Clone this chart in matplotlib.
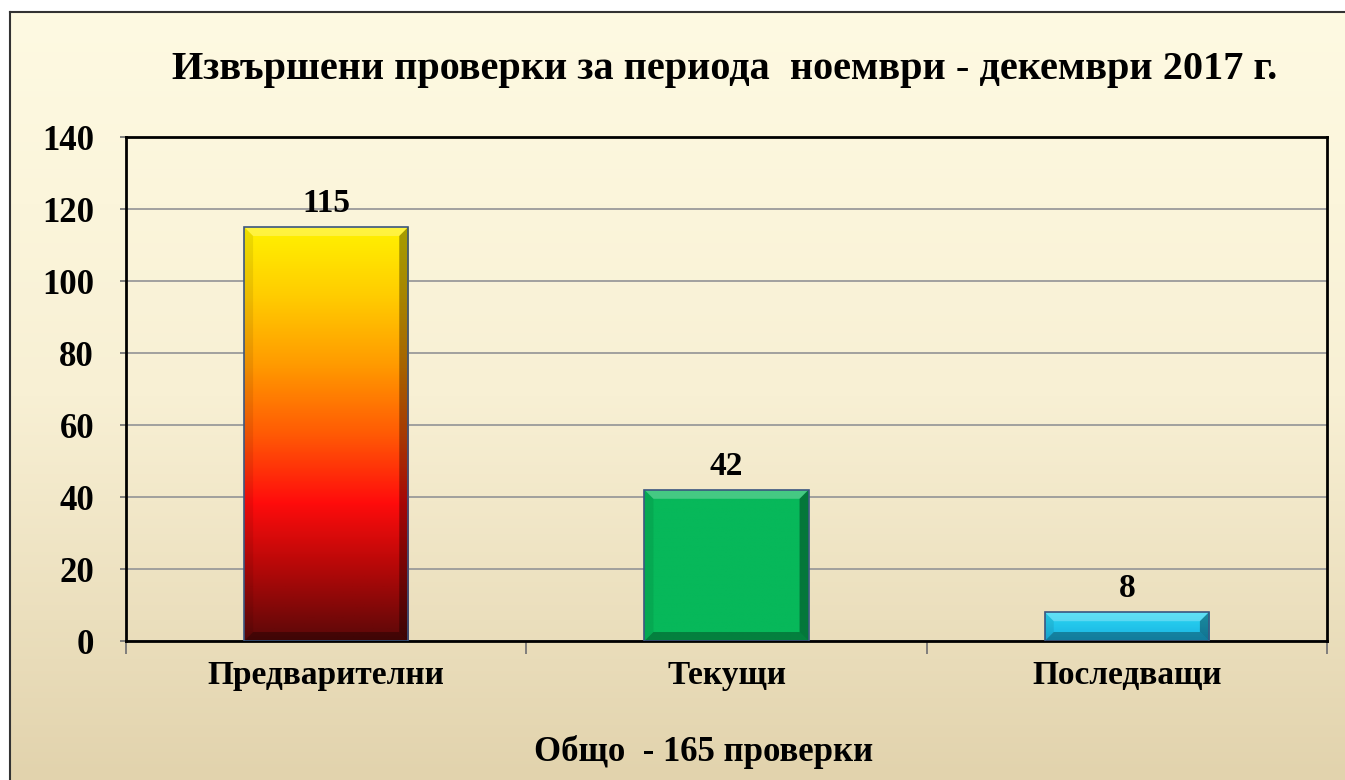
import numpy as np
import matplotlib.pyplot as plt
from matplotlib.colors import LinearSegmentedColormap
from matplotlib.patches import Polygon

# data
categories = ["Предварителни", "Текущи", "Последващи"]
values = [115, 42, 8]
title = "Извършени проверки за периода  ноември - декември 2017 г."
footer = "Общо  - 165 проверки"

plt.rcParams["font.family"] = ["Liberation Serif", "DejaVu Serif"]
plt.rcParams["font.weight"] = "bold"

W, H = 1345, 780
fig = plt.figure(figsize=(W / 100, H / 100), dpi=100, facecolor="white")

# background panel with vertical cream -> tan gradient
bg = fig.add_axes([10 / W, 0, 1 - 10 / W, 1 - 12 / H])
bg_cmap = LinearSegmentedColormap.from_list("bg", ["#fefae2", "#f8f0d4", "#e2d3ad"])
bg.imshow(np.linspace(0, 1, 256).reshape(-1, 1), cmap=bg_cmap, aspect="auto",
          extent=[0, 1, 0, 1], origin="upper")
bg.set_xlim(0, 1)
bg.set_ylim(0, 1)
for side in ["top", "left"]:
    bg.spines[side].set_linewidth(1.5)
    bg.spines[side].set_color("#333333")
for side in ["right", "bottom"]:
    bg.spines[side].set_visible(False)
bg.set_xticks([])
bg.set_yticks([])

left, right, top, bottom = 126, 1327, 137, 641
ax = fig.add_axes([left / W, 1 - bottom / H, (right - left) / W, (bottom - top) / H])
ax.set_facecolor("none")

x = np.arange(len(categories))
bars = ax.bar(x, values, width=0.41, facecolor="none", edgecolor="#3b5680",
              linewidth=1.2, zorder=3)

ax.set_xlim(-0.5, len(categories) - 0.5)
ax.set_ylim(0, 140)
ax.set_yticks(np.arange(0, 141, 20))
ax.yaxis.grid(True, color="#9a9a9a", linewidth=1.3, zorder=0)
ax.set_axisbelow(True)

gradients = [
    ["#5a0808", "#b00808", "#ff0c0c", "#ff5a05", "#ff9a00", "#ffcc00", "#fff200"],
    ["#07b85a", "#07b85a"],
    ["#1ab0e0", "#2ad8f4"],
]

px_x = (right - left) / 3.0
px_y = (bottom - top) / 140.0
bev = 9
for bar, cols in zip(bars, gradients):
    bx, bw, bh = bar.get_x(), bar.get_width(), bar.get_height()
    cmap = LinearSegmentedColormap.from_list("g", cols)
    im = ax.imshow(np.linspace(0, 1, 256).reshape(-1, 1), cmap=cmap, origin="lower",
                   aspect="auto", extent=[bx, bx + bw, 0, bh], zorder=2)
    im.set_clip_path(bar)
    dx = bev / px_x
    dy = min(bev / px_y, bh / 3)
    x0, x1, y0, y1 = bx, bx + bw, 0, bh
    # bevel facets
    facets = [
        ([(x0, y1), (x1, y1), (x1 - dx, y1 - dy), (x0 + dx, y1 - dy)], "white", 0.25),
        ([(x1, y1), (x1, y0), (x1 - dx, y0 + dy), (x1 - dx, y1 - dy)], "black", 0.35),
        ([(x0, y0), (x1, y0), (x1 - dx, y0 + dy), (x0 + dx, y0 + dy)], "black", 0.30),
        ([(x0, y0), (x0, y1), (x0 + dx, y1 - dy), (x0 + dx, y0 + dy)], "black", 0.08),
    ]
    for pts, c, a in facets:
        ax.add_patch(Polygon(pts, closed=True, facecolor=c, alpha=a,
                             edgecolor="none", zorder=2.5))
    ax.text(bar.get_x() + bw / 2, bh + 2.2, str(int(bh)), ha="center", va="bottom",
            fontsize=24, fontweight="bold", zorder=4)

for s in ax.spines.values():
    s.set_color("black")
    s.set_linewidth(2)

ax.set_xticks(x)
ax.set_xticklabels(categories, fontsize=24, fontweight="bold")
ax.set_xticks(np.arange(-0.5, len(categories)), minor=True)
ax.tick_params(axis="x", which="major", length=0, pad=14)
ax.tick_params(axis="x", which="minor", length=9, width=1.3, color="#777777")
ax.tick_params(axis="y", length=4, width=1.3, labelsize=25, pad=19, color="#777777")
for lab in ax.get_yticklabels():
    lab.set_fontweight("bold")

fig.text(725 / W, 1 - 70 / H, title, ha="center", va="center", fontsize=29,
         fontweight="bold")
fig.text(704 / W, 1 - 752 / H, footer, ha="center", va="center", fontsize=25,
         fontweight="bold")

fig.savefig("out.png", dpi=100, facecolor="white")
